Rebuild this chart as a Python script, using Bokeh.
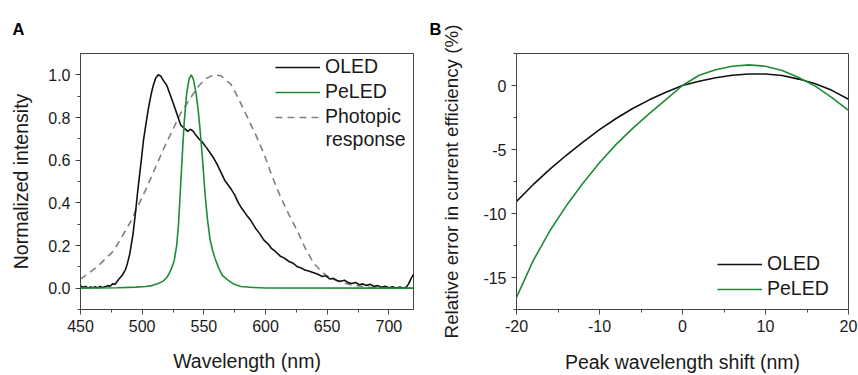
from bokeh.plotting import figure
from bokeh.layouts import row
from bokeh.models import Range1d, FixedTicker, Legend, LegendItem, Label, NumeralTickFormatter, Title
from bokeh.embed import file_html
from bokeh.resources import INLINE

FONT = "Liberation Sans"
TXT = "#1a1a1a"
AX = "#444444"
GREEN = "#1f8c35"

# ---------------- Panel A data ----------------
oled_wl = [450, 452, 454, 456, 458, 460, 462, 464, 466, 468, 470, 472, 474, 476, 478,
           481, 484, 486.5, 488, 490, 492.5, 494.5, 496.5, 498, 499.5, 501, 502.8, 505,
           507.3, 509, 511, 513, 515, 517, 520, 522.5, 525, 528, 531.2, 534, 537, 539,
           541, 543, 546, 548.7, 552, 555, 558, 561, 564, 567, 571.5, 575, 578, 581,
           585, 588, 592, 595, 598.7, 602, 605, 608, 612, 615, 619, 622, 626, 629, 632,
           635, 639, 642, 646, 649, 652, 655, 658, 661, 664, 667, 670, 673, 676, 679,
           682, 685, 688, 691, 694, 697, 700, 703, 706, 709, 712, 714, 716, 718, 720]
oled_int = [0.010, 0.004, 0.008, 0.001, 0.006, 0.002, 0.007, 0.001, 0.008, 0.003, 0.006, 0.012, 0.009, 0.020, 0.018,
            0.042, 0.062, 0.087, 0.115, 0.162, 0.250, 0.350, 0.460, 0.535, 0.610, 0.690, 0.760, 0.840,
            0.910, 0.950, 0.985, 1.000, 0.995, 0.975, 0.950, 0.910, 0.870, 0.820, 0.765, 0.750, 0.735, 0.745,
            0.738, 0.722, 0.700, 0.685, 0.660, 0.635, 0.610, 0.578, 0.542, 0.505, 0.470, 0.437, 0.400, 0.372,
            0.340, 0.318, 0.280, 0.258, 0.225, 0.208, 0.185, 0.172, 0.150, 0.142, 0.125, 0.118, 0.100, 0.094, 0.085,
            0.080, 0.072, 0.066, 0.055, 0.058, 0.043, 0.046, 0.036, 0.032, 0.037, 0.026, 0.022, 0.027, 0.016, 0.020,
            0.013, 0.018, 0.008, 0.012, 0.004, 0.009, 0.002, 0.007, 0.001, 0.005, 0.000, 0.004, 0.020, 0.045, 0.065]

peled_wl = [450, 480, 495, 503, 508, 513, 517, 520, 522, 524, 526, 528, 529.5, 531, 532.5,
            534, 536, 538, 539.8, 541.5, 543.8, 545.5, 547, 549, 551, 553, 555, 557, 559,
            562, 565, 569, 574, 580, 590, 600, 720]
peled_int = [0.0, 0.002, 0.005, 0.008, 0.012, 0.022, 0.033, 0.050, 0.070, 0.095, 0.130, 0.200, 0.300, 0.460, 0.620,
             0.770, 0.910, 0.980, 1.000, 0.980, 0.910, 0.830, 0.740, 0.600, 0.440, 0.320, 0.230, 0.180, 0.140,
             0.095, 0.060, 0.040, 0.020, 0.008, 0.003, 0.001, 0.0]

phot_wl = [450, 463.5, 477, 490.6, 504, 517.6, 531.2, 544.7, 551, 558, 564, 569, 572, 578, 585,
           592, 599, 605, 612, 619, 626, 632, 639, 645, 650, 661, 672, 685, 700, 720]
phot_int = [0.042, 0.100, 0.176, 0.311, 0.476, 0.656, 0.820, 0.940, 0.980, 1.000, 0.995, 0.970, 0.955, 0.890, 0.805,
            0.720, 0.626, 0.530, 0.430, 0.345, 0.266, 0.190, 0.117, 0.080, 0.057, 0.027, 0.012, 0.004, 0.001, 0.0]

# ---------------- Panel B data ----------------
shift = [-20, -18, -16, -14, -12, -10, -8, -6, -4, -2, 0, 2, 4, 6, 8, 10, 12, 14, 16, 18, 20]
err_oled = [-9.05, -7.75, -6.55, -5.45, -4.42, -3.45, -2.58, -1.80, -1.12, -0.52, 0.0, 0.33, 0.60, 0.80, 0.90,
            0.90, 0.78, 0.50, 0.13, -0.38, -1.07]
err_peled = [-16.55, -13.70, -11.37, -9.40, -7.63, -6.03, -4.60, -3.35, -2.20, -1.10, 0.0, 0.80, 1.23, 1.50,
             1.61, 1.50, 1.17, 0.62, -0.05, -0.95, -1.94]


def style(p, xticks, xminor, yticks, yminor):
    p.outline_line_color = AX
    p.outline_line_width = 1
    p.background_fill_color = "white"
    p.border_fill_color = "white"
    p.xgrid.visible = False
    p.ygrid.visible = False
    p.xaxis.ticker = FixedTicker(ticks=xticks, minor_ticks=xminor)
    p.yaxis.ticker = FixedTicker(ticks=yticks, minor_ticks=yminor)
    for ax in (p.xaxis[0], p.yaxis[0]):
        ax.axis_line_color = AX
        ax.major_tick_line_color = AX
        ax.minor_tick_line_color = AX
        ax.major_tick_in = 0
        ax.major_tick_out = 5
        ax.minor_tick_in = 0
        ax.minor_tick_out = 3
        ax.major_label_text_font = FONT
        ax.major_label_text_font_size = "16px"
        ax.major_label_text_color = TXT
        ax.axis_label_text_font = FONT
        ax.axis_label_text_font_size = "19.5px"
        ax.axis_label_text_font_style = "normal"
        ax.axis_label_text_color = TXT
        ax.major_label_standoff = 5


def panel_title(text, offset):
    return Title(text=text, align="left", offset=offset, standoff=31,
                 text_font=FONT, text_font_size="16.5px", text_font_style="bold", text_color="black")


# ---------------- Panel A ----------------
pa = figure(width=430, height=375, output_backend="svg", toolbar_location=None,
            x_range=Range1d(450, 720), y_range=Range1d(-0.1, 1.1),
            min_border_left=80, min_border_right=17, min_border_top=51, min_border_bottom=57,
            title=panel_title("A", -68))
style(pa, [450, 500, 550, 600, 650, 700], [475, 525, 575, 625, 675],
      [0.0, 0.2, 0.4, 0.6, 0.8, 1.0], [-0.1, 0.1, 0.3, 0.5, 0.7, 0.9])
pa.yaxis.formatter = NumeralTickFormatter(format="0.0")
pa.xaxis.formatter = NumeralTickFormatter(format="0")
pa.xaxis.axis_label = "Wavelength (nm)"
pa.yaxis.axis_label = "Normalized intensity"
pa.xaxis.axis_label_standoff = 15
pa.yaxis.axis_label_standoff = 13

r_phot = pa.line(phot_wl, phot_int, line_color="#808080", line_width=1.6, line_dash="7 5")
r_oled = pa.line(oled_wl, oled_int, line_color="#111111", line_width=1.6)
r_pel = pa.line(peled_wl, peled_int, line_color=GREEN, line_width=1.6)

leg_a = Legend(items=[LegendItem(label="OLED", renderers=[r_oled]),
                      LegendItem(label="PeLED", renderers=[r_pel]),
                      LegendItem(label="Photopic", renderers=[r_phot])],
               location=(195, 181), orientation="vertical",
               label_text_font=FONT, label_text_font_size="19.5px", label_text_color=TXT,
               glyph_width=45, glyph_height=22, label_height=22, spacing=2, padding=0, margin=0,
               label_standoff=5, border_line_color=None, background_fill_alpha=0)
pa.add_layout(leg_a)
pa.add_layout(Label(x=245, y=171, x_units="screen", y_units="screen", text="response",
                    text_font=FONT, text_font_size="19.5px", text_color=TXT, text_baseline="middle"))

# ---------------- Panel B ----------------
pb = figure(width=428, height=375, output_backend="svg", toolbar_location=None,
            x_range=Range1d(-20, 20), y_range=Range1d(-17.5, 2.5),
            min_border_left=86, min_border_right=10, min_border_top=53, min_border_bottom=53,
            title=panel_title("B", -87))
style(pb, [-20, -10, 0, 10, 20], [-15, -5, 5, 15],
      [-15, -10, -5, 0], [-17.5, -12.5, -7.5, -2.5, 2.5])
pb.xaxis.formatter = NumeralTickFormatter(format="0")
pb.yaxis.formatter = NumeralTickFormatter(format="0")
pb.xaxis.axis_label = "Peak wavelength shift (nm)"
pb.yaxis.axis_label = "Relative error in current efficiency (%)"
pb.yaxis.axis_label_text_font_size = "18.8px"
pb.xaxis.axis_label_standoff = 16
pb.yaxis.axis_label_standoff = 18

rb_oled = pb.line(shift, err_oled, line_color="#111111", line_width=1.6)
rb_pel = pb.line(shift, err_peled, line_color=GREEN, line_width=1.6)
leg_b = Legend(items=[LegendItem(label="OLED", renderers=[rb_oled]),
                      LegendItem(label="PeLED", renderers=[rb_pel])],
               location=(201, 9), orientation="vertical",
               label_text_font=FONT, label_text_font_size="19.5px", label_text_color=TXT,
               glyph_width=45, glyph_height=22, label_height=22, spacing=2, padding=0, margin=0,
               label_standoff=5, border_line_color=None, background_fill_alpha=0)
pb.add_layout(leg_b)

layout = row(pa, pb, spacing=0)
open("out.html", "w").write(file_html(layout, INLINE))
